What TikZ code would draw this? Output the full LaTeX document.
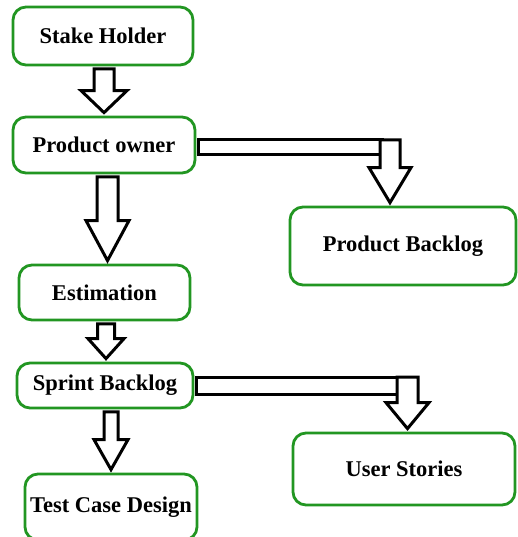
\documentclass[tikz,border=0pt]{standalone}
\usepackage{fontspec}
\setmainfont{Liberation Serif}
\usetikzlibrary{calc}
\definecolor{boxgreen}{RGB}{34,150,34}
\tikzset{
  box/.style={draw=boxgreen, line width=2.8pt, rounded corners=13pt, fill=white,
    inner sep=0pt, text=black, font=\fontsize{22.5}{26}\selectfont\bfseries},
  arrowline/.style={draw=black, line width=3pt, fill=white, line join=miter},
}
% Hollow block arrow pointing down.
% #1 start point, #2 target point, #3 centre x, #4 shaft half width,
% #5 head half width, #6 head length
\newcommand\blockdown[6]{%
  \draw[arrowline] let \p1=(#1), \p2=(#2) in
    ({#3pt-#4pt},\y1) -- ({#3pt-#4pt},{\y2+3pt+#6pt}) -- ({#3pt-#5pt},{\y2+3pt+#6pt})
    -- (#3pt,{\y2+3pt}) -- ({#3pt+#5pt},{\y2+3pt+#6pt}) -- ({#3pt+#4pt},{\y2+3pt+#6pt})
    -- ({#3pt+#4pt},\y1) -- cycle;}
% Hollow horizontal bar from a box side to a turning point.
% #1 box anchor, #2 turning point, #3 bar thickness
\newcommand\blockbar[3]{%
  \draw[arrowline] let \p1=(#1), \p2=(#2) in
    ({\x1+2pt},\y2) rectangle ({\x2-8pt},{\y2-#3pt});}
\begin{document}
\begin{tikzpicture}[x=1pt,y=-1pt]
\useasboundingbox (0,0) rectangle (517,537);

% boxes
\node[box, minimum width=180pt, minimum height=58pt] (stake)   at (103,36)    {Stake Holder};
\node[box, minimum width=182pt, minimum height=56pt] (owner)   at (104,145)   {Product owner};
\node[box, minimum width=226pt, minimum height=78pt] (backlog) at (403,246)   {Product Backlog};
\node[box, minimum width=171pt, minimum height=55pt] (estim)   at (104.5,292.5) {Estimation};
\node[box, minimum width=176pt, minimum height=45pt] (sprint)  at (105,385.5) {Sprint Backlog};
\node[box, minimum width=222pt, minimum height=72pt] (stories) at (404,469)   {User Stories};
\node[box, minimum width=172pt, minimum height=66pt] (test)    at (111,507)   {Test Case Design};

% turning points of the side arrows
\coordinate (ownerturn)  at (390,140);
\coordinate (sprintturn) at (407.5,377);

% downward arrows
\blockdown{[yshift=-2.5pt]stake.south}{owner.north}{104}{10}{23}{22}
\blockdown{[yshift=-2.5pt]owner.south}{estim.north}{107.5}{10.5}{21.5}{40}
\blockdown{[yshift=-2.5pt]estim.south}{sprint.north}{106}{8.5}{18}{20}
\blockdown{[yshift=-2.5pt]sprint.south}{test.north}{111}{7}{17}{30}

% side arrows
\blockbar{owner.east}{ownerturn}{15}
\blockdown{ownerturn}{backlog.north}{390}{10}{21}{35}
\blockbar{sprint.east}{sprintturn}{17}
\blockdown{sprintturn}{stories.north}{407.5}{10.5}{21.5}{26}
\end{tikzpicture}
\end{document}
